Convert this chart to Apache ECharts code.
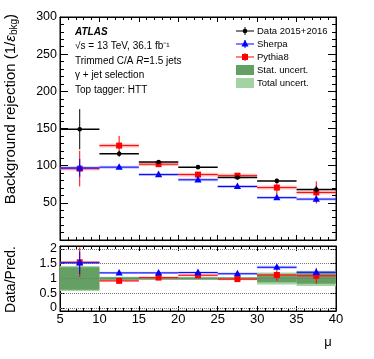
<!DOCTYPE html>
<html>
<head>
<meta charset="utf-8">
<script src="https://cdn.jsdelivr.net/npm/echarts@6/dist/echarts.min.js"></script>
<style>
  html, body { margin: 0; padding: 0; background: #fff; }
  #chart { width: 374px; height: 359px; }
</style>
</head>
<body>
<div id="chart"></div>
<script>
// ── Data ─────────────────────────────────────────────────────────────────────
const binLo = [5, 10, 15, 20, 25, 30, 35];
const binHi = [10, 15, 20, 25, 30, 35, 40];

const dataVal = [149, 116, 105, 98, 84, 79.5, 68];
const dataErr = [27, 4, 2.5, 2, 2.5, 3, 5];

const sherpaVal  = [97, 98, 88, 81, 72, 57, 55];
const sherpaErr  = [12, 2, 2, 2, 2, 3, 4];
const sherpaBand = [2, 2, 2, 2, 2, 2, 2];

const pythiaVal  = [96, 127, 102, 88, 86.5, 70.5, 64];
const pythiaErr  = [24, 13, 3, 3, 3, 10, 15];
const pythiaBand = [2.5, 2.5, 2.5, 2.5, 2.5, 2.5, 2.5];

const ratioSherpa     = [1.53, 1.19, 1.19, 1.2, 1.16, 1.38, 1.21];
const ratioSherpaErr  = [0.38, 0.03, 0.03, 0.03, 0.04, 0.07, 0.1];
const ratioSherpaBand = [0.04, 0.04, 0.04, 0.04, 0.04, 0.05, 0.05];

const ratioPythia     = [1.55, 0.92, 1.03, 1.11, 0.98, 1.12, 1.09];
const ratioPythiaErr  = [0.5, 0.06, 0.04, 0.04, 0.04, 0.2, 0.27];
const ratioPythiaBand = [0.04, 0.04, 0.04, 0.04, 0.04, 0.04, 0.04];

const statUnc  = [0.38, 0.04, 0.03, 0.03, 0.03, 0.13, 0.18];
const totalUnc = [0.42, 0.06, 0.05, 0.05, 0.05, 0.2, 0.25];

const ratioTicks = [0, 0.5, 1, 1.5, 2];

const FONT = 'Liberation Sans, Arial, sans-serif';

// ── Helpers ──────────────────────────────────────────────────────────────────
function rows(vals, errs, band) {
    return binLo.map((lo, i) => [lo, binHi[i], vals[i], errs[i], band ? band[i] : 0]);
}

function marker(kind, x, y, color) {
    if (kind === 'circle') {
        return { type: 'circle', shape: { cx: x, cy: y, r: 2.3 }, style: { fill: color } };
    }
    if (kind === 'square') {
        return { type: 'rect', shape: { x: x - 3, y: y - 3, width: 6, height: 6 }, style: { fill: color } };
    }
    return { type: 'polygon', shape: { points: [[x, y - 4], [x + 3.6, y + 2.6], [x - 3.6, y + 2.6]] }, style: { fill: color } };
}

function binSeries(name, gi, data, color, bandColor, kind, lineW) {
    return {
        name: name,
        type: 'custom',
        xAxisIndex: gi * 2,
        yAxisIndex: gi * 2,
        encode: { x: [0, 1], y: 2 },
        data: data,
        z: 5,
        renderItem: (params, api) => {
            const lo = api.value(0), hi = api.value(1), v = api.value(2);
            const e = api.value(3), b = api.value(4);
            const mid = (lo + hi) / 2;
            const pL = api.coord([lo, v]), pR = api.coord([hi, v]);
            const pM = api.coord([mid, v]);
            const pT = api.coord([mid, v + e]), pB = api.coord([mid, v - e]);
            const kids = [];
            if (b > 0) {
                const t = api.coord([lo, v + b]), d = api.coord([hi, v - b]);
                kids.push({ type: 'rect', shape: { x: t[0], y: t[1], width: d[0] - t[0], height: d[1] - t[1] },
                            style: { fill: bandColor } });
            }
            kids.push({ type: 'line', shape: { x1: pL[0], y1: pL[1], x2: pR[0], y2: pR[1] },
                        style: { stroke: color, lineWidth: lineW } });
            kids.push({ type: 'line', shape: { x1: pT[0], y1: pT[1], x2: pB[0], y2: pB[1] },
                        style: { stroke: color, lineWidth: 1 } });
            kids.push(marker(kind, pM[0], pM[1], color));
            return { type: 'group', children: kids };
        }
    };
}

function bandSeries(name, unc, color, z) {
    return {
        name: name,
        type: 'custom',
        xAxisIndex: 2,
        yAxisIndex: 2,
        encode: { x: [0, 1], y: 2 },
        data: binLo.map((lo, i) => [lo, binHi[i], 1, unc[i]]),
        z: z,
        renderItem: (params, api) => {
            const u = api.value(3);
            const t = api.coord([api.value(0), 1 + u]);
            const d = api.coord([api.value(1), 1 - u]);
            return { type: 'rect', shape: { x: t[0], y: t[1], width: d[0] - t[0], height: d[1] - t[1] },
                     style: { fill: color } };
        }
    };
}

// ── Axes ─────────────────────────────────────────────────────────────────────
const axisLineStyle = { show: true, onZero: false, lineStyle: { color: '#000', width: 1 } };

function xAx(gi, pos, labels, major, minor) {
    return {
        type: 'value', gridIndex: gi, position: pos, min: 5, max: 40, interval: 5,
        axisLine: axisLineStyle,
        axisTick: { show: true, inside: true, length: major, lineStyle: { color: '#000' } },
        minorTick: { show: true, splitNumber: 5, length: minor, lineStyle: { color: '#000' } },
        splitLine: { show: false },
        axisLabel: labels
            ? { show: true, fontSize: 13, color: '#000', fontFamily: FONT, margin: 2,
                showMinLabel: true, showMaxLabel: true }
            : { show: false }
    };
}

// ── Chart ────────────────────────────────────────────────────────────────────
const chart = echarts.init(document.getElementById('chart'));

const legendRows = [
    { label: 'Data 2015+2016', kind: 'circle', color: '#000' },
    { label: 'Sherpa', kind: 'tri', color: '#0000ff' },
    { label: 'Pythia8', kind: 'square', color: '#ff0000' },
    { label: 'Stat. uncert.', box: '#64a064' },
    { label: 'Total uncert.', box: '#a2d4a2' }
];

const legendGraphics = [];
legendRows.forEach((r, i) => {
    const y = 31 + i * 13;
    if (r.box) {
        legendGraphics.push({ type: 'rect', shape: { x: 236, y: y - 5, width: 18, height: 10 }, style: { fill: r.box } });
    } else {
        legendGraphics.push({ type: 'line', shape: { x1: 236, y1: y, x2: 254, y2: y }, style: { stroke: r.color, lineWidth: 1 } });
        legendGraphics.push({ type: 'line', shape: { x1: 245, y1: y - 4, x2: 245, y2: y + 4 }, style: { stroke: r.color, lineWidth: 1 } });
        legendGraphics.push(marker(r.kind, 245, y, r.color));
    }
    legendGraphics.push({ type: 'text', x: 257, y: y,
        style: { text: r.label, font: '9.5px ' + FONT, fill: '#000', textVerticalAlign: 'middle' } });
});

const txt = (y, text, extra) => Object.assign({
    type: 'text', x: 75, y: y,
    style: Object.assign({ text: text, fontSize: 10, fontFamily: FONT, fill: '#000', verticalAlign: 'middle' }, extra || {})
});

chart.setOption({
    animation: false,
    grid: [
        { left: 60, top: 17, width: 276, height: 223, show: true, borderColor: '#000', borderWidth: 1 },
        { left: 60, top: 246, width: 276, height: 65, show: true, borderColor: '#000', borderWidth: 1 }
    ],
    xAxis: [
        xAx(0, 'bottom', false, 5, 3),
        xAx(0, 'top', false, 5, 3),
        xAx(1, 'bottom', true, 5, 3),
        xAx(1, 'top', false, 5, 3)
    ],
    yAxis: [
        {
            type: 'value', gridIndex: 0, position: 'left', min: 0, max: 300, interval: 50,
            axisLine: axisLineStyle,
            axisTick: { show: true, inside: true, length: 8, lineStyle: { color: '#000' } },
            minorTick: { show: true, splitNumber: 5, length: 4, lineStyle: { color: '#000' } },
            splitLine: { show: false },
            axisLabel: { fontSize: 12.5, color: '#000', fontFamily: FONT, margin: 3,
                         formatter: v => (v === 0 ? '' : String(v)) }
        },
        {
            type: 'value', gridIndex: 0, position: 'right', min: 0, max: 300, interval: 50,
            axisLine: axisLineStyle,
            axisTick: { show: true, inside: true, length: 8, lineStyle: { color: '#000' } },
            minorTick: { show: true, splitNumber: 5, length: 4, lineStyle: { color: '#000' } },
            splitLine: { show: false },
            axisLabel: { show: false }
        },
        {
            type: 'value', gridIndex: 1, position: 'left', min: -0.1, max: 2.1,
            axisLine: axisLineStyle,
            axisTick: { show: true, inside: true, length: 5, customValues: ratioTicks, lineStyle: { color: '#000' } },
            splitLine: { show: false },
            axisLabel: { fontSize: 12.5, color: '#000', fontFamily: FONT, margin: 3,
                         customValues: ratioTicks, formatter: v => String(v) }
        },
        {
            type: 'value', gridIndex: 1, position: 'right', min: -0.1, max: 2.1,
            axisLine: axisLineStyle,
            axisTick: { show: true, inside: true, length: 5, customValues: ratioTicks, lineStyle: { color: '#000' } },
            splitLine: { show: false },
            axisLabel: { show: false }
        }
    ],
    graphic: [
        txt(32, 'ATLAS', { fontWeight: 'bold', fontStyle: 'italic' }),
        txt(46, '√s = 13 TeV, 36.1 fb⁻¹'),
        txt(61, '{n|Trimmed C/A }{i|R}{n|=1.5 jets}', {
            rich: { n: { fontSize: 10, fontFamily: FONT }, i: { fontSize: 10, fontFamily: FONT, fontStyle: 'italic' } } }),
        txt(75, 'γ + jet selection'),
        txt(90, 'Top tagger: HTT'),
        {
            type: 'text', x: 11, y: 14, rotation: Math.PI / 2,
            style: {
                text: '{n|Background rejection (1/}{e|ε}{s|bkg}{n|)}',
                align: 'right', verticalAlign: 'middle',
                rich: {
                    n: { fontSize: 15, fontFamily: FONT, fill: '#000' },
                    e: { fontSize: 15, fontFamily: FONT, fontStyle: 'italic', fill: '#000' },
                    s: { fontSize: 10, fontFamily: FONT, fill: '#000', padding: [6, 0, 0, 0] }
                }
            }
        },
        {
            type: 'text', x: 11, y: 246, rotation: Math.PI / 2,
            style: { text: 'Data/Pred.', fontSize: 14, fontFamily: FONT, fill: '#000', align: 'right', verticalAlign: 'middle' }
        },
        {
            type: 'text', x: 328, y: 342,
            style: { text: 'μ', fontSize: 13, fontFamily: FONT, fill: '#000', align: 'center', verticalAlign: 'middle' }
        }
    ].concat(legendGraphics),
    series: [
        binSeries('Pythia8', 0, rows(pythiaVal, pythiaErr, pythiaBand), '#ff0000', 'rgba(255,110,110,0.45)', 'square', 1),
        binSeries('Sherpa', 0, rows(sherpaVal, sherpaErr, sherpaBand), '#0000ff', 'rgba(110,110,255,0.4)', 'tri', 1),
        binSeries('Data 2015+2016', 0, rows(dataVal, dataErr, null), '#000', null, 'circle', 1.5),

        bandSeries('Total uncert.', totalUnc, '#a2d4a2', 1),
        bandSeries('Stat. uncert.', statUnc, '#64a064', 2),
        {
            name: 'grid', type: 'line', xAxisIndex: 2, yAxisIndex: 2, data: [], z: 3, silent: true,
            markLine: {
                symbol: 'none', silent: true, label: { show: false },
                lineStyle: { color: '#777', type: 'dotted', width: 1 },
                data: ratioTicks.map(v => ({ yAxis: v }))
            }
        },
        binSeries('Pythia8 ratio', 1, rows(ratioPythia, ratioPythiaErr, ratioPythiaBand), '#ff0000', 'rgba(255,110,110,0.45)', 'square', 1),
        binSeries('Sherpa ratio', 1, rows(ratioSherpa, ratioSherpaErr, ratioSherpaBand), '#0000ff', 'rgba(110,110,255,0.4)', 'tri', 1)
    ]
});
</script>
</body>
</html>
